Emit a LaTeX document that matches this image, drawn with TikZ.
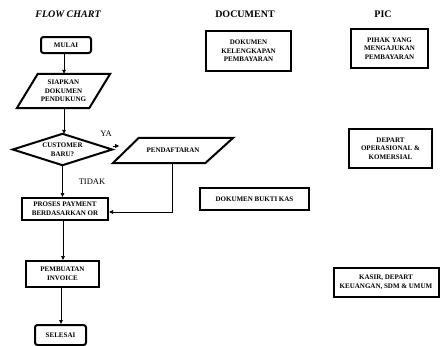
\documentclass[tikz,border=0pt]{standalone}
\usepackage{fontspec}
\setmainfont{Liberation Serif}
\usetikzlibrary{arrows.meta,calc}
\tikzset{
  box/.style={draw=black, line width=2pt, align=center, inner sep=1pt,
    font=\fontsize{7}{8.6}\selectfont\bfseries},
  rbox/.style={box, rounded corners=2.5pt},
  shapeholder/.style={align=center, inner sep=1pt,
    font=\fontsize{7}{8.6}\selectfont\bfseries},
  outline/.style={draw=black, line width=2pt, line join=miter},
  conn/.style={draw=black, line width=0.7pt, -{Triangle[length=4pt,width=3.6pt]}},
  title/.style={font=\fontsize{10}{12}\selectfont\bfseries},
  lbl/.style={font=\fontsize{8.5}{10}\selectfont}
}
\begin{document}
\begin{tikzpicture}[x=1pt,y=-1pt]
\useasboundingbox (0,0) rectangle (440,346);
% titles
\node[title, font=\fontsize{10}{12}\selectfont\bfseries\itshape] (t1) at (68,14) {FLOW CHART};
\node[title] (t2) at (245,14) {DOCUMENT};
\node[title] (t3) at (383,14) {PIC};

% flow chart
\node[rbox, minimum width=50pt, minimum height=16pt] (mulai) at (66,45) {MULAI};

\node[shapeholder, minimum width=93pt, minimum height=34pt] (siap) at (63.5,91) {SIAPKAN\\DOKUMEN\\PENDUKUNG};
\draw[outline] (siap.south west) -- ($(siap.south east)+(-21,0)$) -- (siap.north east) -- ($(siap.north west)+(21,0)$) -- cycle;

\node[shapeholder, minimum width=99pt, minimum height=31pt] (cust) at (62.5,149.5) {CUSTOMER\\BARU?};
\draw[outline] (cust.north) -- (cust.east) -- (cust.south) -- (cust.west) -- cycle;

\node[shapeholder, minimum width=120pt, minimum height=25pt] (daftar) at (173,150.5) {PENDAFTARAN};
\draw[outline] (daftar.south west) -- ($(daftar.south east)+(-28,0)$) -- (daftar.north east) -- ($(daftar.north west)+(26,0)$) -- cycle;

\node[box, minimum width=86pt, minimum height=22pt] (proses) at (65,209) {PROSES PAYMENT\\BERDASARKAN OR};
\node[box, minimum width=73pt, minimum height=26pt] (invoice) at (62.5,274) {PEMBUATAN\\INVOICE};
\node[rbox, minimum width=51pt, minimum height=20pt] (selesai) at (60.5,335) {SELESAI};

\node[lbl] (ya) at (106,134) {YA};
\node[lbl] (tidak) at (92,182) {TIDAK};

% connectors
\draw[conn] ([xshift=-2pt]mulai.south) -- ([xshift=-2pt]mulai.south |- siap.north);
\draw[conn] ([xshift=0.5pt]siap.south) -- ([xshift=0.5pt]siap.south |- cust.north);
\draw[conn] (cust.south) -- (cust.south |- proses.north);
\draw[conn] ([xshift=-2pt]proses.south) -- ([xshift=-2pt]proses.south |- invoice.north);
\draw[conn] ([xshift=-1.5pt]invoice.south) -- ([xshift=-1.5pt]invoice.south |- selesai.north);
\coordinate (yaend) at ($(cust.east)+(7,-3.5)$);
\draw[conn] ($(cust.east)+(0.5,-3.5)$) -- (yaend);
\draw[conn] ([xshift=-1pt]daftar.south) |- ([yshift=-3pt]proses.east);

% document column
\node[box, minimum width=85pt, minimum height=40pt] (dok1) at (248.5,51) {DOKUMEN\\KELENGKAPAN\\PEMBAYARAN};
\node[box, minimum width=109pt, minimum height=22pt] (dok2) at (254.5,199) {DOKUMEN BUKTI KAS};

% PIC column
\node[box, minimum width=77pt, minimum height=39pt] (pic1) at (389.5,48.5) {PIHAK YANG\\MENGAJUKAN\\PEMBAYARAN};
\node[box, minimum width=83pt, minimum height=39pt] (pic2) at (390.5,148.5) {DEPART\\OPERASIONAL \&\\KOMERSIAL};
\node[box, minimum width=105pt, minimum height=29pt] (pic3) at (386,282.5) {KASIR, DEPART\\KEUANGAN, SDM \& UMUM};
\end{tikzpicture}
\end{document}
